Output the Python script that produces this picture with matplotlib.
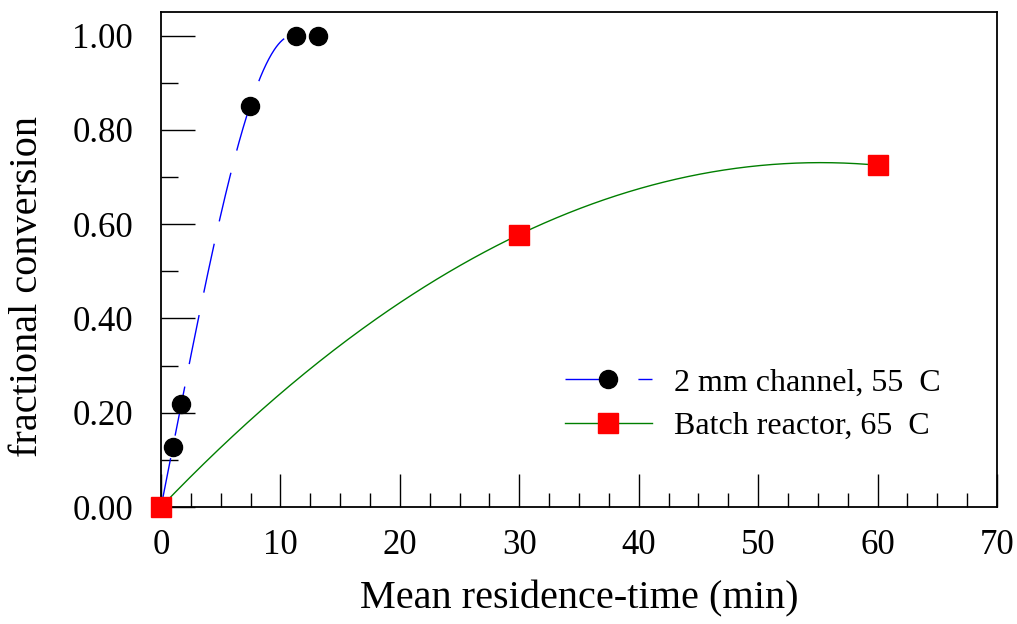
import numpy as np
import matplotlib
matplotlib.use('Agg')
import matplotlib.pyplot as plt
from matplotlib.ticker import MultipleLocator, FormatStrFormatter

plt.rcParams['font.family'] = ['Liberation Serif', 'DejaVu Serif']

# 2 mm channel at 55 C
chan_t = [0.0, 1.0, 1.7, 7.45, 11.3, 13.15]
chan_x = [0.0, 0.127, 0.219, 0.851, 1.0, 1.0]

# batch reactor at 65 C
batch_t = [0.0, 30.0, 60.0]
batch_x = [0.0, 0.578, 0.725]

fig = plt.figure(figsize=(10.17, 6.24), dpi=100)
ax = fig.add_axes([0.1583, 0.1875, 0.822, 0.7933])

# trend lines: cubic through the channel runs up to full conversion, quadratic for batch
cfit = np.polyfit(chan_t[:5], chan_x[:5], 3)
tc = np.linspace(0, chan_t[4], 200)
bfit = np.polyfit(batch_t, batch_x, 2)
tb = np.linspace(0, batch_t[-1], 300)

ax.plot(tc, np.polyval(cfit, tc), color='#0000ff', lw=1.0, dashes=(36, 16.5), zorder=2)
ax.plot(tb, np.polyval(bfit, tb), color='#007f00', lw=1.0, zorder=2)

ax.plot(chan_t, chan_x, 'o', color='black', ms=13, clip_on=False, zorder=3)
ax.plot(batch_t, batch_x, 's', color='#ff0000', ms=15, clip_on=False, zorder=4)

# legend entries drawn as proxies
h1, = ax.plot([], [], color='#0000ff', lw=1.0, marker='o', mfc='black', mec='black', ms=13,
              dashes=(36, 16.5), label='2 mm channel, 55  C')
h2, = ax.plot([], [], color='#007f00', lw=1.0, marker='s', mfc='#ff0000', mec='#ff0000', ms=15,
              label='Batch reactor, 65  C')
ax.legend(handles=[h1, h2], loc='lower right', bbox_to_anchor=(0.967, 0.075), frameon=False,
          fontsize=23, handlelength=2.7, handletextpad=0.7, labelspacing=0.45, numpoints=1)

ax.set_xlim(0, 70)
ax.set_ylim(0, 1.05)
ax.xaxis.set_major_locator(MultipleLocator(10))
ax.xaxis.set_minor_locator(MultipleLocator(2.5))
ax.yaxis.set_major_locator(MultipleLocator(0.2))
ax.yaxis.set_minor_locator(MultipleLocator(0.1))
ax.yaxis.set_major_formatter(FormatStrFormatter('%.2f'))

ax.tick_params(axis='x', which='major', direction='in', length=24, width=1.0, pad=16, labelsize=25)
ax.tick_params(axis='x', which='minor', direction='in', length=10, width=1.0)
ax.tick_params(axis='y', which='major', direction='in', length=24.5, width=1.0, pad=20, labelsize=25)
ax.tick_params(axis='y', which='minor', direction='in', length=12, width=1.0)
for s in ax.spines.values():
    s.set_linewidth(1.3)

ax.set_xlabel('Mean residence-time (min)', fontsize=29, labelpad=13)
ax.set_ylabel('fractional conversion', fontsize=29)
ax.yaxis.set_label_coords(-0.138, 0.446)

fig.savefig('out.png', dpi=100)
